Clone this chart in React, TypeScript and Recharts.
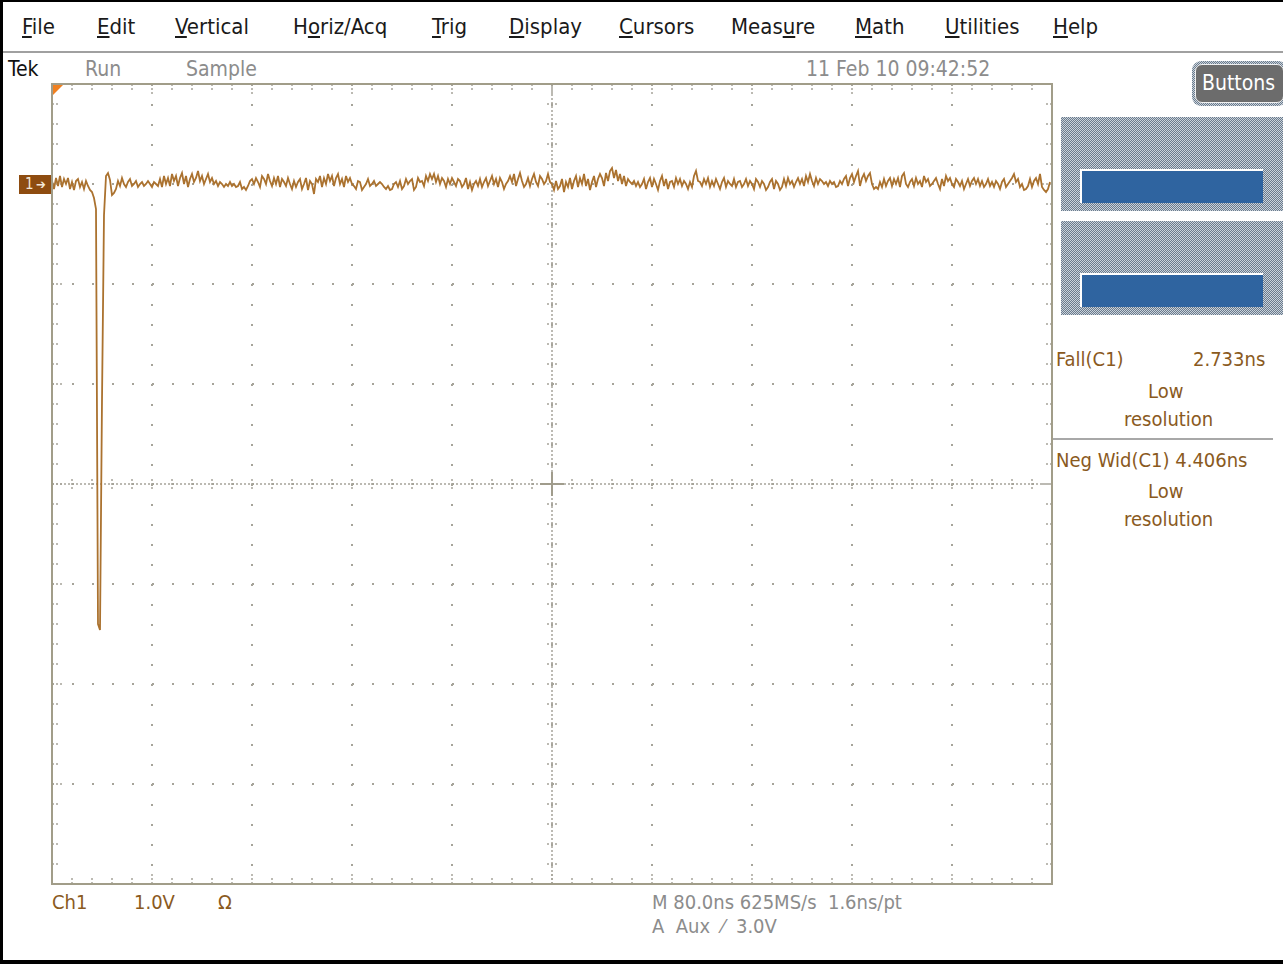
import React from 'react';
import { LineChart, Line, XAxis, YAxis, CartesianGrid, ReferenceLine } from 'recharts';

// Ch1 record, 1.6 ns per point, in mV relative to the channel ground marker
const ch1mV = [
  30, -50, 60, -20, 80, -30, 50, 0, 60, -50,
  20, -60, 30, 50, -30, 20, -50, 30, -20, -60,
  -80, -140, -250, -4400, -4460, -2160, -310, 80, 110, 40,
  -110, -90, -50, 30, -20, 60, 0, -30, 20, 50,
  -20, 0, 30, -30, 0, 20, -20, 0, 30, 0,
  -30, 20, 0, -20, 50, -30, 80, 0, 60, -20,
  100, 30, 80, -20, 60, 110, 0, 80, -30, 50,
  100, 20, 60, 130, 30, 80, 0, 50, 100, 20,
  60, 0, 30, -20, 20, 0, -30, 0, -20, 20,
  -20, 0, -30, -20, 20, -50, -30, -60, -20, 30,
  50, 0, 60, 20, -30, 80, 50, 0, 100, 30,
  -20, 60, 0, 80, -30, 50, 20, -20, 60, 0,
  -50, 30, -30, 20, 50, -50, 0, 60, -60, 30,
  0, -100, 50, 20, 80, -30, 60, 0, 100, 30,
  80, -20, 60, 100, 0, 50, -30, 80, 20, 60,
  0, -20, -50, 30, 20, -60, -30, 0, 50, -20,
  0, 30, -20, 0, 20, 0, -30, -50, -20, -60,
  -50, 0, 20, -30, 30, -50, -20, 50, 0, 30,
  50, -60, -30, 60, 20, 30, -20, 80, 30, 100,
  50, 100, 20, 80, 0, 60, 30, -30, 50, 0,
  60, 20, -20, 50, 30, -30, 0, 60, -50, 20,
  -60, 0, 30, -20, 50, -30, 20, 60, -20, 30,
  80, 0, 50, -30, 60, 20, -50, 0, 30, 80,
  20, 100, -20, 50, 110, 30, -30, 0, 60, -20,
  50, 100, 20, -20, 80, 50, 0, 30, 100, 20,
  0, -60, 30, -50, -20, 50, -80, 20, -30, 60,
  -50, 30, 80, -30, 60, 0, 100, -20, 50, -60,
  20, 80, -30, 50, 100, 60, -20, 110, 30, 130,
  160, 60, 140, 30, 100, 0, 80, -20, 50, 20,
  0, 30, -20, 20, -30, 0, 50, -50, 20, 60,
  -30, 50, 0, -60, 30, 80, -20, 50, -50, 20,
  30, -30, 60, 0, 50, -20, 30, 0, -50, 20,
  -30, 80, 130, 30, 20, -20, 50, 0, 60, -30,
  30, -20, 50, 0, -50, 20, 60, -30, 30, 0,
  -20, 50, -30, 20, 30, -30, 0, 50, -20, 30,
  0, -50, 50, 20, -30, 30, 0, -60, -30, 20,
  50, -50, 30, 0, -60, -30, 50, -20, 60, 0,
  30, -30, 20, 60, 0, 50, -20, 80, 20, 100,
  30, -20, 60, 0, 50, 30, 0, 20, -20, 30,
  0, 20, -30, -20, 30, 0, 50, 80, -20, 60,
  100, 20, 80, 130, -20, 60, 100, 30, 80, 110,
  0, -50, -30, -50, 20, -30, 50, -20, 30, 60,
  -20, 50, 0, 60, -30, 80, 110, 0, -30, 20,
  50, -20, 60, 0, 30, -30, 80, 20, 50, -20,
  0, 30, 60, 0, -50, 50, -20, 80, 30, 60,
  0, -30, 50, 20, -20, 30, -50, 0, 50, -20,
  30, 60, 0, 50, -20, 30, -30, 0, 50, -20,
  20, -30, 30, 0, -50, 20, 50, -30, 0, 30,
  60, 100, 20, 50, -30, 0, -60, -50, -20, 50,
  -30, 30, 60, 0, 100, -30, -60, -80, -50, 20,
];

const SAMPLE_NS = 1.6;
// graticule: 10 x 80 ns, 8 x 1.0 V (ground one division below the top)
const divTimes = [0, 80, 160, 240, 320, 400, 480, 560, 640, 720, 800];
const divVolts = [1, 0, -1, -2, -3, -4, -5, -6, -7];

const menuItems = [
  { label: 'File', u: 0 }, { label: 'Edit', u: 0 }, { label: 'Vertical', u: 0 },
  { label: 'Horiz/Acq', u: 1 }, { label: 'Trig', u: 0 }, { label: 'Display', u: 0 },
  { label: 'Cursors', u: 0 }, { label: 'Measure', u: 4 }, { label: 'Math', u: 0 },
  { label: 'Utilities', u: 0 }, { label: 'Help', u: 0 },
];
const menuX = [22, 97, 175, 293, 432, 509, 619, 731, 855, 945, 1053];

const data = ch1mV.map((mv, i) => ({ t: Math.round(i * SAMPLE_NS * 10) / 10, v: mv / 1000 }));

const minorX = Array.from({ length: 51 }, (_, i) => i * 16);
const minorY = Array.from({ length: 41 }, (_, i) => Math.round((1 - i * 0.2) * 100) / 100);

const FONT = '"Liberation Sans Narrow", "DejaVu Sans Condensed", "Arial Narrow", sans-serif';
const BROWN = '#8a5a1e';
const GRAYTXT = '#8c8c8c';
const DOT = '#a6a49a';
const TRACE = '#ab722f';

const Txt = ({ x, y, size = 22, color = '#111', children, style = {} }: any) => (
  <div style={{ position: 'absolute', left: x, top: y - size * 0.5, fontSize: size, lineHeight: `${size}px`, color, whiteSpace: 'pre', ...style }}>
    {children}
  </div>
);

const hatch = 'repeating-conic-gradient(#6a7b8d 0% 25%, #cbd3db 0% 50%) 0 0 / 2px 2px';

function tickLines() {
  const out: React.ReactNode[] = [];
  const tick = { stroke: DOT, strokeWidth: 1.5, strokeDasharray: '2 2' };
  minorX.forEach((x, i) => {
    if (i === 0 || i === 50) return;
    const len = (i % 5 === 0 ? 10 : 6) * 0.01;
    out.push(<ReferenceLine key={'t' + i} segment={[{ x, y: 1 }, { x, y: 1 - len }]} {...tick} />);
    out.push(<ReferenceLine key={'b' + i} segment={[{ x, y: -7 }, { x, y: -7 + len }]} {...tick} />);
    out.push(<ReferenceLine key={'ch' + i} segment={[{ x, y: -3.05 }, { x, y: -2.95 }]} {...tick} />);
  });
  minorY.forEach((y, i) => {
    if (i === 0 || i === 40) return;
    const len = (i % 5 === 0 ? 10 : 6) * 0.8;
    out.push(<ReferenceLine key={'l' + i} segment={[{ x: 0, y }, { x: len, y }]} {...tick} />);
    out.push(<ReferenceLine key={'r' + i} segment={[{ x: 800, y }, { x: 800 - len, y }]} {...tick} />);
    out.push(<ReferenceLine key={'cv' + i} segment={[{ x: 396, y }, { x: 404, y }]} {...tick} />);
  });
  return out;
}

export default function App() {
  return (
    <div style={{ position: 'fixed', left: 0, top: 0, width: 1283, height: 964, background: '#fff', overflow: 'hidden', fontFamily: FONT }}>
      {/* window frame */}
      <div style={{ position: 'absolute', left: 0, top: 0, width: 1283, height: 2, background: '#000' }} />
      <div style={{ position: 'absolute', left: 0, top: 0, width: 3, height: 964, background: '#000' }} />
      <div style={{ position: 'absolute', left: 0, top: 960, width: 1283, height: 4, background: '#000' }} />

      {/* menu bar */}
      {menuItems.map((m, i) => (
        <Txt key={m.label} x={menuX[i]} y={27} size={22} color="#1a1a1a">
          {m.label.slice(0, m.u)}<u>{m.label[m.u]}</u>{m.label.slice(m.u + 1)}
        </Txt>
      ))}
      <div style={{ position: 'absolute', left: 3, top: 51, width: 1280, height: 2, background: '#a0a0a0' }} />

      {/* status line */}
      <Txt x={8} y={69} size={21} color="#111">Tek</Txt>
      <Txt x={85} y={69} size={21} color={GRAYTXT}>Run</Txt>
      <Txt x={186} y={69} size={21} color={GRAYTXT}>Sample</Txt>
      <Txt x={806} y={69} size={21} color={GRAYTXT}>11 Feb 10 09:42:52</Txt>

      {/* Buttons */}
      <div style={{ position: 'absolute', left: 1192, top: 61, width: 95, height: 45, borderRadius: 9, background: hatch, padding: 3, boxSizing: 'border-box' }}>
        <div style={{ width: '100%', height: '100%', borderRadius: 7, background: '#6c6c6c', border: '1px solid #f0f0f0', boxSizing: 'border-box', color: '#fff', fontSize: 21, lineHeight: '37px', paddingLeft: 6 }}>
          Buttons
        </div>
      </div>

      {/* side panel */}
      {[117, 221].map((top) => (
        <div key={top} style={{ position: 'absolute', left: 1061, top, width: 222, height: 94, background: hatch }}>
          <div style={{ position: 'absolute', left: 19, top: 52, width: 183, height: 34, background: '#2f64a0', borderTop: '2px solid #fff', borderLeft: '2px solid #fff', boxSizing: 'border-box' }} />
        </div>
      ))}
      <Txt x={1056} y={359} size={20} color={BROWN}>Fall(C1)</Txt>
      <Txt x={1193} y={359} size={20} color={BROWN}>2.733ns</Txt>
      <Txt x={1148} y={391} size={20} color={BROWN}>Low</Txt>
      <Txt x={1124} y={419} size={20} color={BROWN}>resolution</Txt>
      <div style={{ position: 'absolute', left: 1053, top: 438, width: 220, height: 2, background: '#a8a8a8' }} />
      <Txt x={1056} y={460} size={20} color={BROWN}>Neg Wid(C1) 4.406ns</Txt>
      <Txt x={1148} y={491} size={20} color={BROWN}>Low</Txt>
      <Txt x={1124} y={519} size={20} color={BROWN}>resolution</Txt>

      {/* scope graticule and trace */}
      <div style={{ position: 'absolute', left: 52, top: 84 }}>
        <LineChart width={1000} height={800} data={data} margin={{ top: 0, right: 0, bottom: 0, left: 0 }}>
          <XAxis dataKey="t" type="number" domain={[0, 800]} ticks={divTimes} hide />
          <YAxis type="number" domain={[-7, 1]} ticks={divVolts} hide />
          <CartesianGrid stroke={DOT} strokeWidth={2} strokeDasharray="2 18" verticalValues={divTimes} horizontalValues={divVolts} />
          <ReferenceLine y={-3} stroke={DOT} strokeWidth={1.5} strokeDasharray="2 2" />
          <ReferenceLine x={400} stroke={DOT} strokeWidth={1.5} strokeDasharray="2 2" />
          {tickLines()}
          <ReferenceLine segment={[{ x: 390.4, y: -3 }, { x: 409.6, y: -3 }]} stroke="#a09c8c" strokeWidth={2} />
          <ReferenceLine segment={[{ x: 400, y: -3.12 }, { x: 400, y: -2.88 }]} stroke="#a09c8c" strokeWidth={2} />
          <Line type="linear" dataKey="v" stroke={TRACE} strokeWidth={1.8} dot={false} isAnimationActive={false} />
        </LineChart>
      </div>
      <div style={{ position: 'absolute', left: 51, top: 83, width: 1002, height: 802, border: '2px solid #a19d89', boxSizing: 'border-box', pointerEvents: 'none' }} />

      {/* trigger position marker */}
      <div style={{ position: 'absolute', left: 53, top: 85, width: 0, height: 0, borderTop: '10px solid #f08020', borderRight: '10px solid transparent' }} />

      {/* channel 1 ground marker */}
      <div style={{ position: 'absolute', left: 19, top: 175, width: 32, height: 19, background: '#8e4c10', color: '#f4e8d8', fontSize: 15, lineHeight: '19px' }}>
        <span style={{ position: 'absolute', left: 6 }}>1</span>
        <span style={{ position: 'absolute', left: 17, fontSize: 13 }}>➔</span>
      </div>

      {/* readouts */}
      <Txt x={52} y={902} size={20} color={BROWN}>Ch1</Txt>
      <Txt x={134} y={902} size={20} color={BROWN}>1.0V</Txt>
      <Txt x={218} y={902} size={20} color={BROWN}>Ω</Txt>
      <Txt x={652} y={902} size={20} color={GRAYTXT}>M 80.0ns 625MS/s  1.6ns/pt</Txt>
      <Txt x={652} y={926} size={20} color={GRAYTXT}>A  Aux  ⁄  3.0V</Txt>
    </div>
  );
}
